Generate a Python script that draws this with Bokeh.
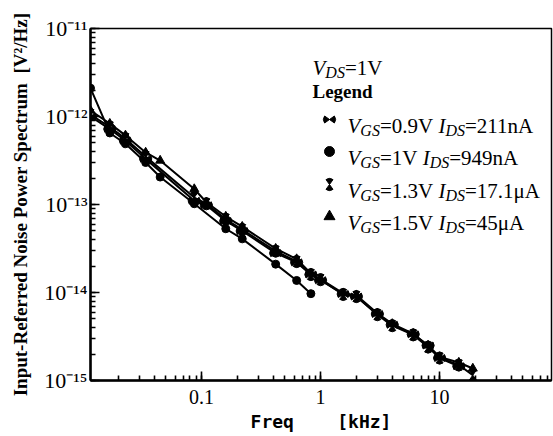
import math
from bokeh.plotting import figure
from bokeh.models import Range1d, Label, LogTicker, CustomJSTickFormatter
from bokeh.embed import file_html
from bokeh.resources import INLINE

# ---- data: frequency [kHz] and input-referred noise PSD [V^2/Hz] ----
f_09 = [0.0117, 0.017, 0.023, 0.034, 0.087, 0.11, 0.16, 0.22, 0.42, 0.63, 0.83,
        1.0, 1.55, 2.0, 3.0, 4.0, 6.0, 8.0, 10.0, 14.5]
s_09 = [1.0e-12, 7.2e-13, 5.3e-13, 3.3e-13, 1.1e-13, 9.8e-14, 6.5e-14, 5.0e-14, 2.8e-14,
        2.2e-14, 1.6e-14, 1.38e-14, 9.6e-15, 9.0e-15, 5.7e-15, 4.3e-15, 3.35e-15, 2.5e-15,
        1.8e-15, 1.45e-15]

f_10 = [0.0117, 0.017, 0.023, 0.034, 0.045, 0.087, 0.16, 0.22, 0.42, 0.63, 0.83]
s_10 = [2.1e-12, 6.5e-13, 4.9e-13, 3.0e-13, 2.05e-13, 1.02e-13, 5.3e-14, 4.07e-14,
        2.1e-14, 1.37e-14, 9.7e-15]

f_13 = [0.0117, 0.017, 0.023, 0.034, 0.087, 0.11, 0.16, 0.22, 0.42, 0.63, 0.83,
        1.0, 1.55, 2.0, 3.0, 4.0, 6.0, 8.0, 10.0, 14.5, 19.0]
s_13 = [1.05e-12, 7.6e-13, 5.6e-13, 3.5e-13, 1.2e-13, 1.02e-13, 6.8e-14, 5.2e-14, 2.95e-14,
        2.25e-14, 1.6e-14, 1.4e-14, 9.5e-15, 9.0e-15, 5.6e-15, 4.2e-15, 3.3e-15, 2.4e-15,
        1.8e-15, 1.5e-15, 1.15e-15]

f_15 = [0.0117, 0.017, 0.023, 0.034, 0.045, 0.087, 0.11, 0.16, 0.22, 0.42, 0.63, 0.83,
        1.0, 1.55, 2.0, 3.0, 4.0, 6.0, 8.0, 10.0, 14.5, 19.0]
s_15 = [1.17e-12, 8.3e-13, 6.1e-13, 3.9e-13, 3.16e-13, 1.5e-13, 1.06e-13, 7.3e-14, 5.6e-14,
        3.15e-14, 2.4e-14, 1.65e-14, 1.42e-14, 9.8e-15, 9.3e-15, 5.8e-15, 4.4e-15, 3.4e-15,
        2.5e-15, 1.85e-15, 1.6e-15, 1.37e-15]

X_START, X_END = 0.0117, 87.0
Y_START, Y_END = 1e-15, 1e-11

# frame placement in page pixels
FL, FR, FT, FB = 90, 551, 28, 380

p = figure(width=553, height=436, x_axis_type="log", y_axis_type="log",
           x_range=Range1d(X_START, X_END), y_range=Range1d(Y_START, Y_END),
           output_backend="svg", toolbar_location=None,
           min_border_left=FL, min_border_right=553 - FR,
           min_border_top=FT, min_border_bottom=436 - FB)
p.background_fill_color = "white"
p.border_fill_color = "white"
p.grid.visible = False
p.outline_line_color = "black"
p.outline_line_width = 1.5
p.outline_line_alpha = 1.0

for ax in (p.xaxis[0], p.yaxis[0]):
    ax.axis_line_width = 2.5
    ax.axis_line_color = "black"
    ax.major_tick_in = 9
    ax.major_tick_out = 0
    ax.minor_tick_in = 5
    ax.minor_tick_out = 0
    ax.major_tick_line_width = 1.6
    ax.minor_tick_line_width = 1.6
    ax.major_tick_line_color = "black"
    ax.minor_tick_line_color = "black"

p.xaxis.ticker = LogTicker(num_minor_ticks=10)
p.xaxis.formatter = CustomJSTickFormatter(code="return String(parseFloat(tick.toPrecision(3)));")
p.xaxis.major_label_text_font = "Liberation Serif"
p.xaxis.major_label_text_font_size = "20px"
p.xaxis.major_label_text_color = "black"
p.xaxis.major_label_standoff = 9
p.xaxis.axis_label = "Freq\u00a0\u00a0\u00a0\u00a0[kHz]"
p.xaxis.axis_label_text_font = "DejaVu Sans Mono"
p.xaxis.axis_label_text_font_style = "bold"
p.xaxis.axis_label_text_font_size = "18px"
p.xaxis.axis_label_text_color = "black"
p.xaxis.axis_label_standoff = 4

p.yaxis.ticker = LogTicker(num_minor_ticks=10)
p.yaxis.formatter = CustomJSTickFormatter(code="""
const e = Math.round(Math.log10(tick));
const sup = {'-': '\\u207b', '0': '\\u2070', '1': '\\u00b9', '2': '\\u00b2', '3': '\\u00b3',
             '4': '\\u2074', '5': '\\u2075', '6': '\\u2076', '7': '\\u2077', '8': '\\u2078',
             '9': '\\u2079'};
return '10' + String(e).split('').map(c => sup[c]).join('');
""")
p.yaxis.major_label_text_font = "Liberation Serif"
p.yaxis.major_label_text_font_size = "22px"
p.yaxis.major_label_text_color = "black"
p.yaxis.major_label_standoff = 3
p.yaxis.axis_label = "Input-Referred Noise Power Spectrum\u00a0\u00a0[V\u00b2/Hz]"
p.yaxis.axis_label_text_font = "Liberation Serif"
p.yaxis.axis_label_text_font_style = "bold"
p.yaxis.axis_label_text_font_size = "19px"
p.yaxis.axis_label_text_color = "black"
p.yaxis.axis_label_standoff = 10

LW = 2.0


def bowtie(xs, ys, r=6.0, half=0.62):
    for a in (0.0, math.pi):
        p.wedge(xs, ys, radius=r, radius_units="screen", start_angle=a - half,
                end_angle=a + half, fill_color="black", line_color="black")


def hourglass(xs, ys, r=6.0, half=0.62):
    for a in (math.pi / 2, 3 * math.pi / 2):
        p.wedge(xs, ys, radius=r, radius_units="screen", start_angle=a - half,
                end_angle=a + half, fill_color="black", line_color="black")


p.line(f_09, s_09, line_color="black", line_width=LW)
bowtie(f_09, s_09)
p.line(f_10, s_10, line_color="black", line_width=LW)
p.scatter(f_10, s_10, marker="circle", size=8, color="black")
p.line(f_13, s_13, line_color="black", line_width=LW)
hourglass(f_13, s_13)
p.line(f_15, s_15, line_color="black", line_width=LW)
p.scatter(f_15, s_15, marker="triangle", size=9, color="black")

# ---- legend (layout in page pixels) ----
LX0, LX1 = math.log10(X_START), math.log10(X_END)
LY0, LY1 = math.log10(Y_START), math.log10(Y_END)


def px2data(X, Y):
    x = 10 ** (LX0 + (X - FL) / (FR - FL) * (LX1 - LX0))
    y = 10 ** (LY1 - (Y - FT) / (FB - FT) * (LY1 - LY0))
    return x, y


ROM = {'=': 564, '.': 250, 'V': 722, 'n': 500, 'A': 722, '\u03bc': 576, ' ': 250}
ITA = {'V': 611, 'G': 722, 'S': 500, 'I': 333, 'D': 722}


def width(s, size, italic):
    tab = ITA if italic else ROM
    return sum(tab.get(c, 500) for c in s) * size / 1000.0


def runs_at(runs, X, Y):
    for text, size, italic, dy in runs:
        p.add_layout(Label(x=X - FL, y=FB - (Y + dy), x_units="screen", y_units="screen",
                           text=text, text_align="left", text_baseline="alphabetic",
                           text_font="Liberation Serif",
                           text_font_style="italic" if italic else "normal",
                           text_font_size="%dpx" % size, text_color="black"))
        X += width(text, size, italic)


MAIN, SUB = 21, 16
runs_at([("V", MAIN, True, 0), ("DS", SUB, True, 5), ("=1V", MAIN, False, 0)], 312, 67)
p.add_layout(Label(x=312 - FL, y=FB - 91, x_units="screen", y_units="screen", text="Legend",
                   text_align="left", text_baseline="alphabetic", text_font="Liberation Serif",
                   text_font_style="bold", text_font_size="19px", text_color="black"))

entries = [("=0.9V ", "=211nA"), ("=1V ", "=949nA"), ("=1.3V ", "=17.1\u03bcA"), ("=1.5V ", "=45\u03bcA")]
base = [125, 157, 190, 222]
for (vg, idd), b in zip(entries, base):
    runs_at([("V", MAIN, True, 0), ("GS", SUB, True, 5), (vg, MAIN, False, 0),
             ("I", MAIN, True, 0), ("DS", SUB, True, 5), (idd, MAIN, False, 0)], 347, b)

mk = [px2data(329, b - 6) for b in base]
bowtie([mk[0][0]], [mk[0][1]])
p.scatter([mk[1][0]], [mk[1][1]], marker="circle", size=10, color="black")
hourglass([mk[2][0]], [mk[2][1]])
p.scatter([mk[3][0]], [mk[3][1]], marker="triangle", size=11, color="black")

open("out.html", "w").write(file_html(p, INLINE))
